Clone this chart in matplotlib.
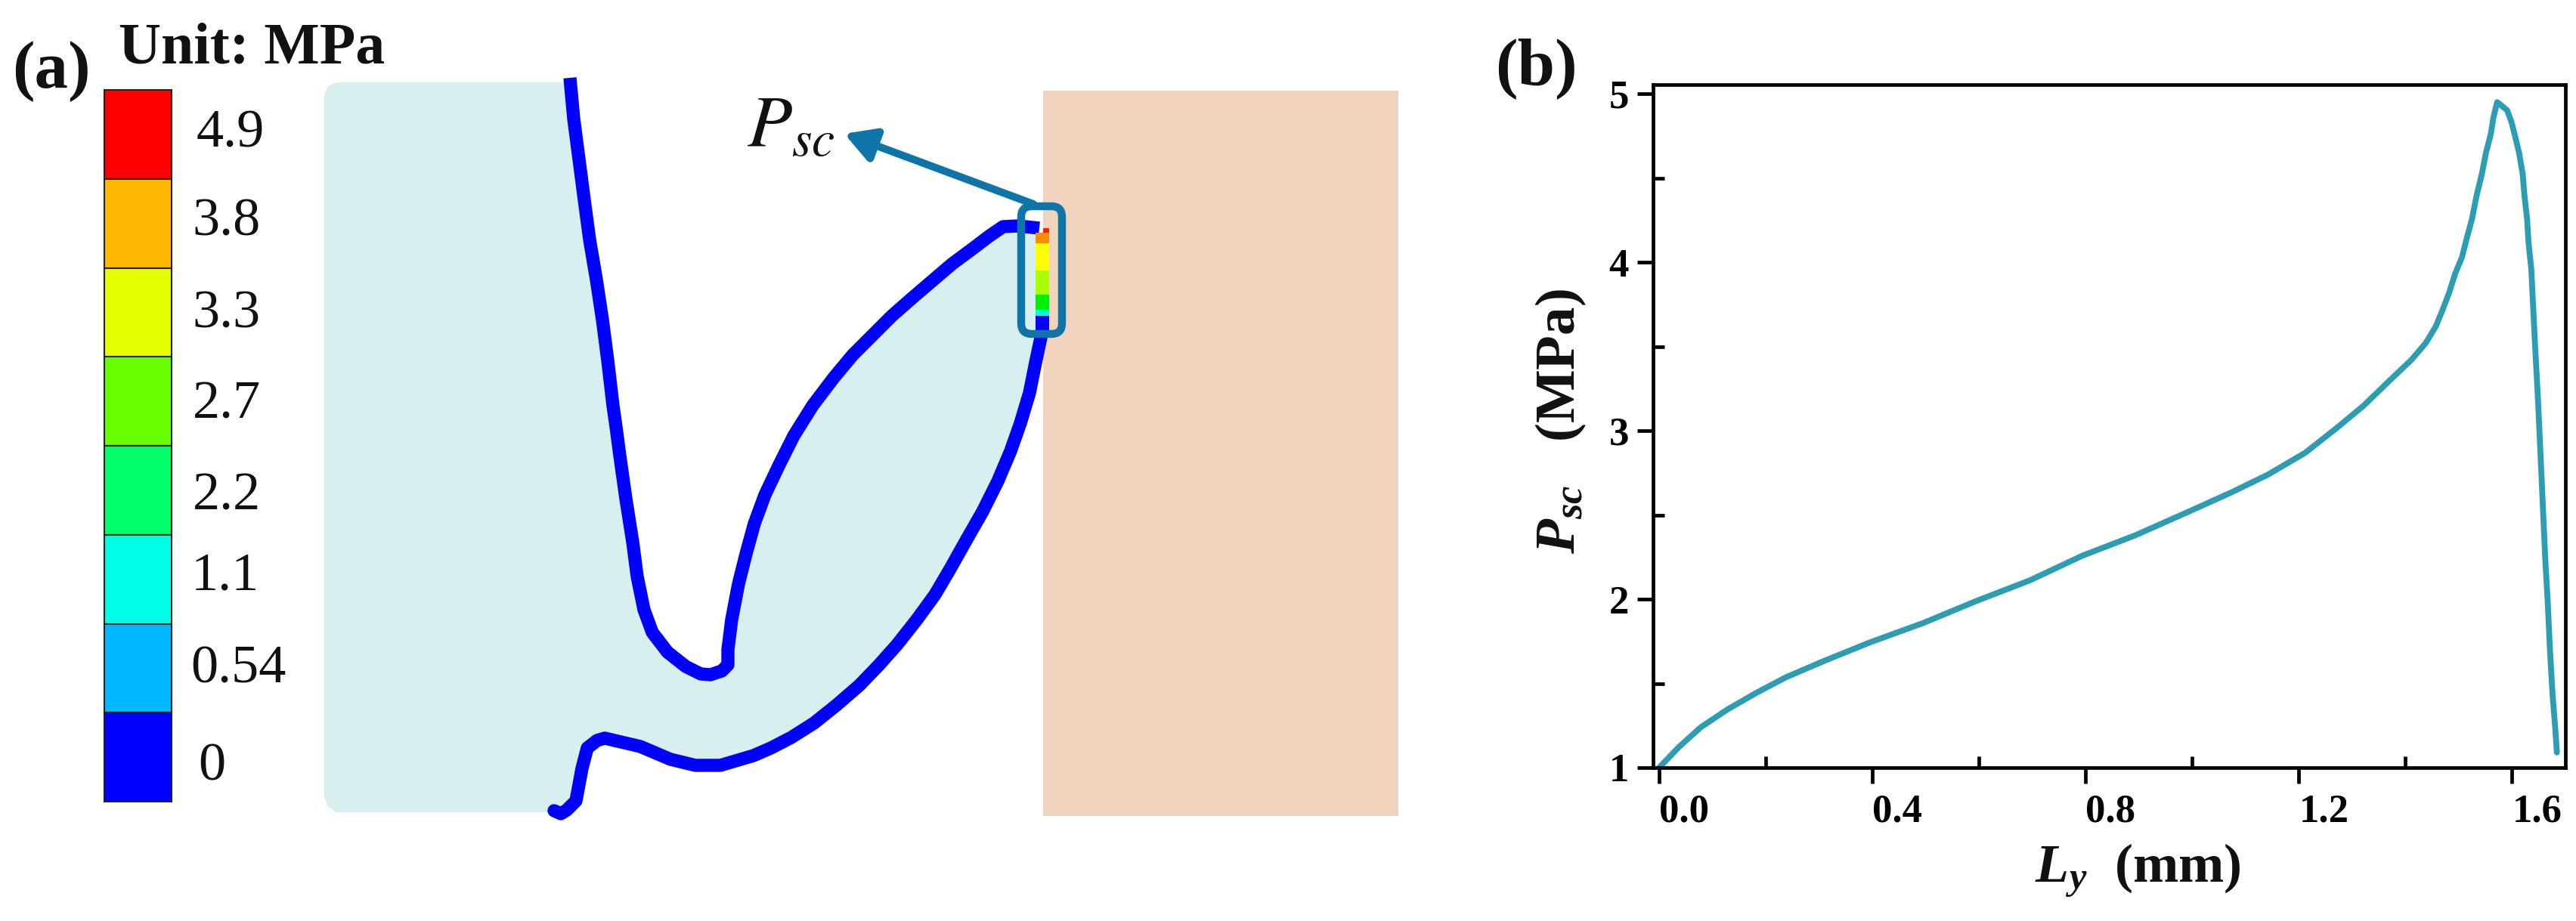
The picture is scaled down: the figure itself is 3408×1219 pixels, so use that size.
import matplotlib
matplotlib.use("Agg")
import matplotlib.pyplot as plt
from matplotlib.patches import Rectangle, FancyBboxPatch, Polygon

plt.rcParams['font.family'] = ['Liberation Serif', 'DejaVu Serif']
plt.rcParams['mathtext.fontset'] = 'custom'
plt.rcParams['mathtext.rm'] = 'Liberation Serif'
plt.rcParams['mathtext.it'] = 'Liberation Serif:italic'
plt.rcParams['mathtext.bf'] = 'Liberation Serif:bold'
plt.rcParams['mathtext.bfit'] = 'Liberation Serif:italic:bold'

W, H = 3408, 1219

# Panel (b) curve values
ly = [0.0, 0.038, 0.078, 0.128, 0.182, 0.237, 0.307, 0.396, 0.496, 0.595, 0.695, 0.794, 0.894,
      0.993, 1.073, 1.142, 1.212, 1.271, 1.321, 1.371, 1.411, 1.438, 1.457, 1.47, 1.482, 1.493, 1.506, 1.514,
      1.525, 1.533, 1.543, 1.551, 1.56, 1.565, 1.572, 1.58, 1.591, 1.599, 1.607, 1.613, 1.62,
      1.623, 1.628, 1.631, 1.636, 1.643, 1.648, 1.652, 1.657, 1.662, 1.667, 1.671, 1.676,
      1.681, 1.684]
psc = [1.0, 1.125, 1.239, 1.345, 1.443, 1.535, 1.63, 1.744, 1.859, 1.989, 2.111, 2.258, 2.38,
       2.519, 2.633, 2.739, 2.869, 3.016, 3.147, 3.30, 3.42, 3.52, 3.62, 3.72, 3.82, 3.93, 4.03, 4.13,
       4.26, 4.39, 4.52, 4.65, 4.76, 4.86, 4.95, 4.93, 4.90, 4.83, 4.73, 4.65, 4.52,
       4.40, 4.26, 4.11, 3.96, 3.51, 3.22, 2.95, 2.60, 2.25, 1.97, 1.70, 1.43,
       1.23, 1.09]
x_major = [0.0, 0.4, 0.8, 1.2, 1.6]
x_minor = [0.2, 0.6, 1.0, 1.4]
y_major = [1, 2, 3, 4, 5]
y_minor = [1.5, 2.5, 3.5, 4.5]

# Panel (a) legend
legend_labels = ['4.9', '3.8', '3.3', '2.7', '2.2', '1.1', '0.54', '0']
legend_colors = ['#ff0000', '#ffb900', '#e6ff00', '#69ff00', '#00ff69', '#00ffe6', '#00b9ff', '#0000ff']

# Panel (a) schematic outlines, in image pixels
left_x = [754, 759, 765, 772, 780, 789, 797, 804, 811, 815, 820, 828, 837, 843, 852, 863, 883, 907,
          927, 940, 955, 963, 963, 968, 977, 987, 998, 1012, 1030, 1050, 1075, 1103, 1128, 1155,
          1180, 1205, 1233, 1260, 1287, 1308, 1327, 1347, 1375]
left_y = [103, 157, 203, 257, 317, 370, 423, 477, 537, 565, 603, 660, 717, 763, 807, 837, 863, 882,
          892, 893, 888, 880, 860, 820, 773, 733, 693, 655, 617, 577, 537, 500, 470, 443,
          418, 396, 372, 349, 329, 313, 300, 299, 302]
low_x = [1377, 1370, 1362, 1350, 1337, 1320, 1300, 1280, 1257, 1237, 1213, 1187, 1163, 1137, 1107,
         1077, 1047, 1020, 997, 970, 953, 920, 887, 847, 800, 790, 777, 770, 762, 750, 742, 733]
low_y = [447, 480, 520, 560, 597, 637, 677, 712, 753, 787, 820, 853, 880, 907, 933,
         957, 976, 990, 1000, 1008, 1013, 1013, 1005, 988, 977, 980, 990, 1017, 1060, 1072, 1077, 1073]
strip_colors = ['#ff8c00', '#ffff00', '#aaff00', '#00ee00', '#00ffcc', '#0000ff']
strip_edges = [308, 322, 358, 390, 410, 418, 437]

BLUE = '#0000ff'
FRAME = '#0f75a8'

fig = plt.figure(figsize=(W / 100, H / 100), dpi=100, facecolor='white')
a = fig.add_axes([0, 0, 1, 1])
a.set_xlim(0, W)
a.set_ylim(H, 0)
a.axis('off')

# Bodies
a.add_patch(Rectangle((1380, 120), 470, 960, fc='#f0d4bd', ec='none', zorder=1))
body = [(445, 109), (753, 109)] + list(zip(left_x, left_y))[1:] + list(zip(low_x, low_y)) \
    + [(733, 1075), (445, 1075), (434, 1068), (429, 1055), (429, 125), (434, 114)]
a.add_patch(Polygon(body, closed=True, fc='#d8efef', ec='none', zorder=2))
a.plot(left_x, left_y, color=BLUE, lw=12.5, solid_joinstyle='round', solid_capstyle='butt', zorder=3)
a.plot(low_x, low_y, color=BLUE, lw=12.5, solid_joinstyle='round', solid_capstyle='round', zorder=3)

# Contact pressure strip
for i, c in enumerate(strip_colors):
    a.add_patch(Rectangle((1370, strip_edges[i]), 18, strip_edges[i + 1] - strip_edges[i],
                          fc=c, ec='none', zorder=4))
a.add_patch(Rectangle((1380, 302), 8, 6, fc='#ff2000', ec='none', zorder=4))

# Frame and arrow
a.add_patch(FancyBboxPatch((1362, 284), 32, 147, boxstyle='round,pad=11,rounding_size=14',
                           fc='none', ec=FRAME, lw=7.5, zorder=5))
a.annotate('', xy=(1117, 177), xytext=(1367, 270),
           arrowprops=dict(arrowstyle='-|>,head_length=0.8,head_width=0.45', color=FRAME, lw=7.2,
                           mutation_scale=30, shrinkA=0, shrinkB=0), zorder=5)
a.text(1046, 172, r'$P_{sc}$', fontsize=70, ha='center', va='center', color='#111111', zorder=6,
       math_fontfamily='stix')

# Legend
top, bottom = 119, 1061
step = (bottom - top) / len(legend_colors)
ypos_text = [177, 294, 416, 536, 657, 763, 886, 1015]
xpos_text = [305, 300, 300, 300, 300, 298, 315, 280]
for i, (c, lab) in enumerate(zip(legend_colors, legend_labels)):
    a.add_patch(Rectangle((138, top + i * step), 89, step, fc=c, ec='#222222', lw=1.5, zorder=3))
    a.text(xpos_text[i], ypos_text[i], lab, fontsize=52, ha='center', va='center', color='#111111')
a.text(333, 65, 'Unit: MPa', fontsize=56, fontweight='bold', ha='center', va='center', color='#111111')
a.text(68, 95, '(a)', fontsize=64, fontweight='bold', ha='center', va='center', color='#111111')
a.text(2032, 91, '(b)', fontsize=64, fontweight='bold', ha='center', va='center', color='#111111')

# Panel (b)
b = fig.add_axes([2187 / W, 1 - 1016 / H, (3394 - 2187) / W, (1016 - 112) / H])
b.patch.set_alpha(0)
b.plot(ly, psc, color='#2d9db3', lw=5.6, solid_joinstyle='round', solid_capstyle='round')
b.set_xlim(-0.0113, 1.70)
b.set_ylim(1, 5.054)
b.set_xticks(x_major, [f'{v:.1f}' for v in x_major])
b.set_xticks(x_minor, minor=True)
b.set_yticks(y_major, [str(v) for v in y_major])
b.set_yticks(y_minor, minor=True)
b.tick_params(which='major', direction='out', length=15, width=3.4, labelsize=38, pad=10)
b.tick_params(which='minor', direction='in', length=11, width=3.4)
b.tick_params(axis='y', which='major', pad=8)
for lab in b.get_xticklabels():
    lab.set_fontweight('bold')
    lab.set_ha('left')
for lab in b.get_yticklabels():
    lab.set_fontweight('bold')
for s in b.spines.values():
    s.set_linewidth(3.4)
a.text(2828, 1153, r'$\mathbfit{L_y}$  (mm)', fontsize=52, fontweight='bold', ha='center', va='center',
       color='#111111')
a.text(2065, 558, r'$\mathbfit{P_{sc}}$   (MPa)', fontsize=54, fontweight='bold', ha='center', va='center',
       rotation=90, color='#111111')

fig.savefig('out.png', dpi=100)
